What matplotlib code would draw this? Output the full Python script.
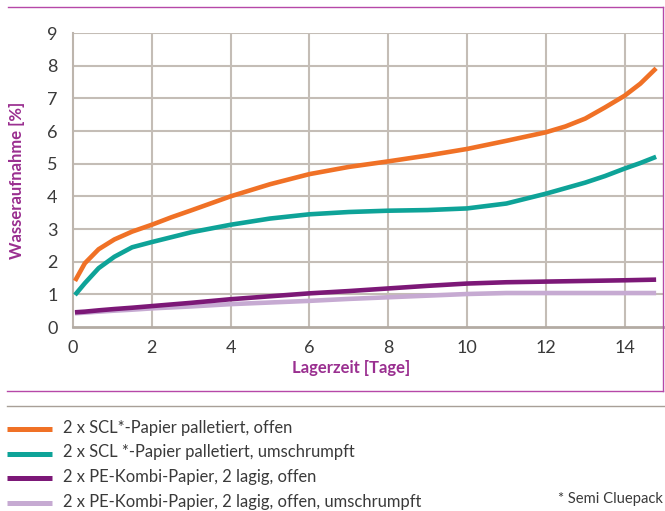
import matplotlib
matplotlib.use("Agg")
import matplotlib.pyplot as plt
from matplotlib.lines import Line2D

plt.rcParams['font.family'] = ['Lato', 'DejaVu Sans']

# Werte
tage = [0.05, 0.3, 0.65, 1.05, 1.5, 2, 2.5, 3, 4, 5, 6, 7, 8, 9, 10, 11, 12, 12.5, 13, 13.5,
        14, 14.4, 14.8]
scl_offen = [1.41, 1.95, 2.38, 2.68, 2.92, 3.13, 3.36, 3.57, 4.00, 4.37, 4.68, 4.90, 5.07, 5.25,
             5.45, 5.70, 5.96, 6.14, 6.38, 6.72, 7.08, 7.45, 7.92]
scl_umschr = [0.98, 1.34, 1.80, 2.15, 2.44, 2.60, 2.75, 2.90, 3.13, 3.32, 3.45, 3.52, 3.56, 3.58,
              3.63, 3.78, 4.08, 4.25, 4.42, 4.62, 4.85, 5.02, 5.21]
pe_offen = [0.45, 0.47, 0.51, 0.55, 0.59, 0.64, 0.69, 0.74, 0.85, 0.94, 1.03, 1.10, 1.18, 1.26,
            1.33, 1.37, 1.39, 1.40, 1.41, 1.42, 1.43, 1.44, 1.45]
pe_umschr = [0.42, 0.44, 0.47, 0.50, 0.53, 0.57, 0.60, 0.63, 0.70, 0.75, 0.80, 0.86, 0.91, 0.96,
             1.01, 1.04, 1.04, 1.04, 1.04, 1.04, 1.04, 1.04, 1.04]

labels = ["2 x SCL*-Papier palletiert, offen",
          "2 x SCL *-Papier palletiert, umschrumpft",
          "2 x PE-Kombi-Papier, 2 lagig, offen",
          "2 x PE-Kombi-Papier, 2 lagig, offen, umschrumpft"]
farben = ["#f07126", "#0ea398", "#7c1877", "#c6aad2"]
serien = [scl_offen, scl_umschr, pe_offen, pe_umschr]

x_ticks = [0, 2, 4, 6, 8, 10, 12, 14]
y_ticks = list(range(10))

W, H = 665, 511
fig = plt.figure(figsize=(W / 100, H / 100), dpi=100)
ax = fig.add_axes([73 / W, 1 - 327 / H, 591 / W, 294 / H])

grid_col = "#c4bdb6"
for x in x_ticks[1:]:
    ax.axvline(x, color=grid_col, lw=1.5, zorder=1)
for y in y_ticks[1:]:
    ax.axhline(y, color=grid_col, lw=1.5, zorder=1)

# hellste Linie zuerst, damit die dunkleren oben liegen
for werte, farbe in reversed(list(zip(serien, farben))):
    ax.plot(tage, werte, color=farbe, lw=3.3, solid_capstyle='butt',
            solid_joinstyle='round', zorder=3)

ax.set_xlim(0, 15)
ax.set_ylim(0, 9)
ax.set_xticks(x_ticks)
ax.set_yticks(y_ticks)
ax.tick_params(length=0, labelsize=13, labelcolor="#3a3a3a")
ax.tick_params(axis='x', pad=9)
ax.tick_params(axis='y', pad=11)
for s in ['top', 'right']:
    ax.spines[s].set_visible(False)
ax.spines['left'].set_color("#bdb5ad")
ax.spines['bottom'].set_color("#b3aba3")
ax.spines['left'].set_linewidth(1.5)
ax.spines['bottom'].set_linewidth(2)

lila = "#9a2f90"
fig.text(351 / W, 1 - 368 / H, "Lagerzeit [Tage]", color=lila, fontsize=12,
         fontweight='bold', ha='center', va='center')
fig.text(17 / W, 1 - 180 / H, "Wasseraufnahme [%]", color=lila, fontsize=12,
         fontweight='bold', ha='center', va='center', rotation=90)

# Rahmen
rahmen = "#b648a8"
fig.add_artist(Line2D([8 / W, 663 / W], [1 - 7 / H, 1 - 7 / H], color=rahmen, lw=1))
fig.add_artist(Line2D([663 / W, 663 / W], [1 - 7 / H, 1 - 390.5 / H], color=rahmen, lw=1))
fig.add_artist(Line2D([7 / W, 663 / W], [1 - 390.5 / H, 1 - 390.5 / H], color=rahmen, lw=1))
fig.add_artist(Line2D([7 / W, 665 / W], [1 - 406 / H, 1 - 406 / H], color="#a89f97", lw=1))

# Legende
for i, (lab, farbe) in enumerate(zip(labels, farben)):
    y = 1 - (429 + i * 24.7) / H
    fig.add_artist(Line2D([7 / W, 52 / W], [y, y], color=farbe, lw=3.6, solid_capstyle='butt'))
    fig.text(63 / W, y + 1.5 / H, lab, fontsize=11.9, color="#3a3a3a", va='center')
fig.text(663 / W, 1 - 499 / H, "* Semi Cluepack", fontsize=10.6, color="#3a3a3a",
         ha='right', va='center')

fig.savefig("out.png", dpi=100)
